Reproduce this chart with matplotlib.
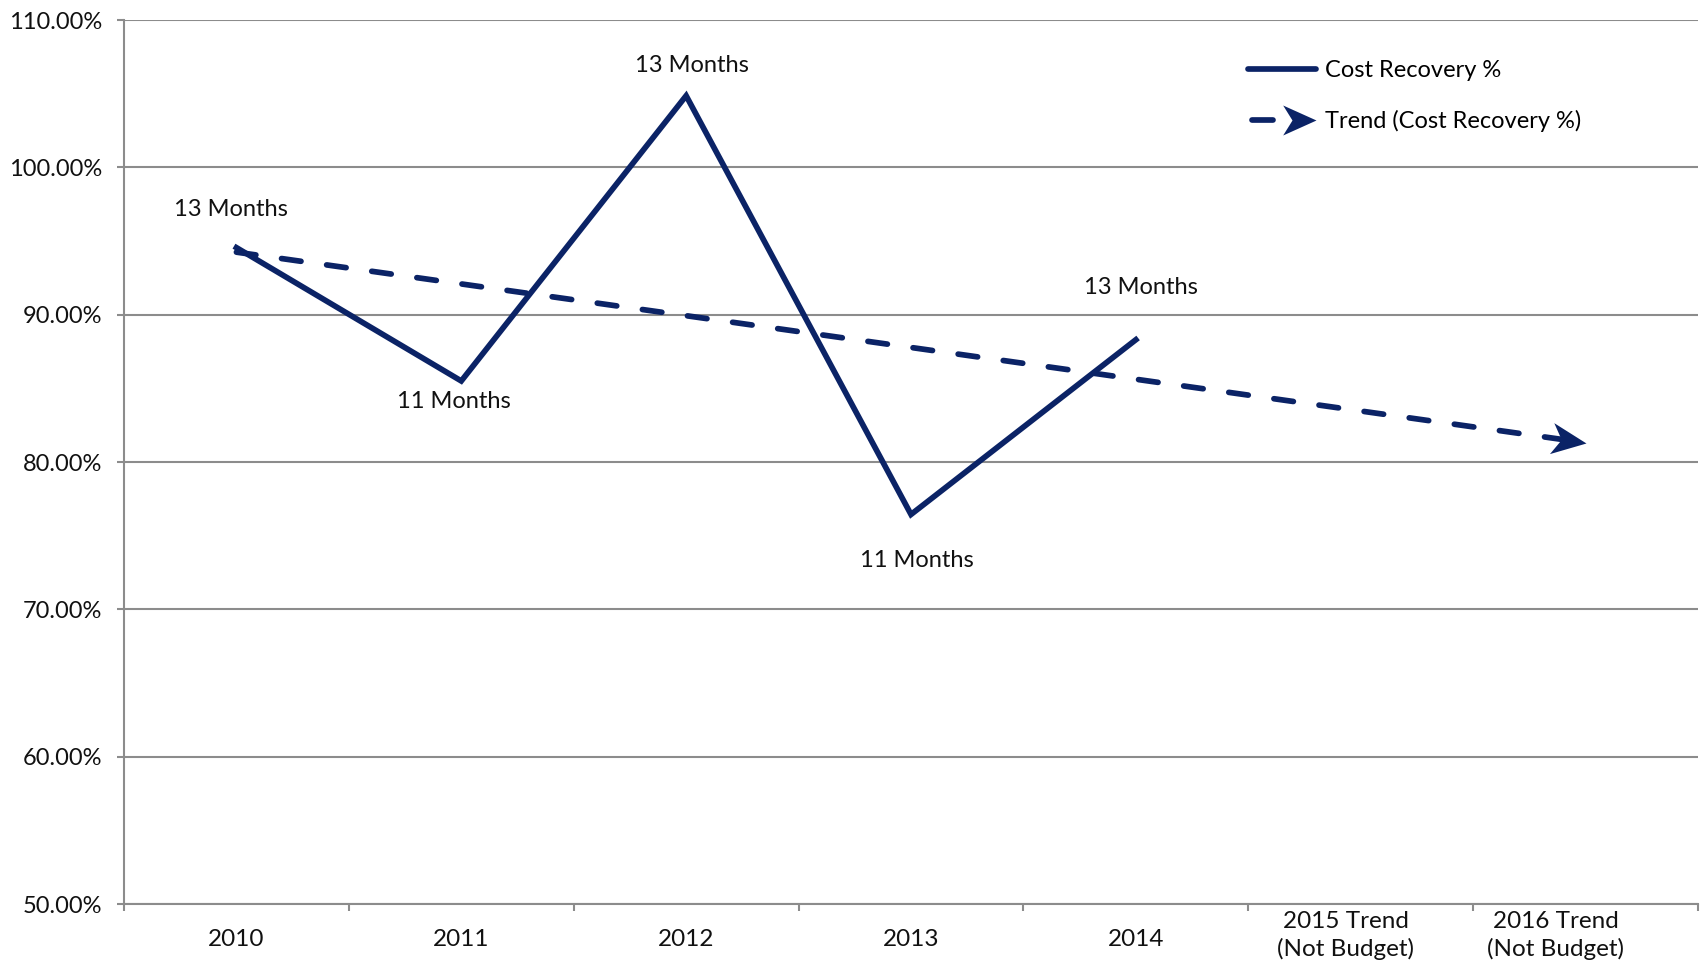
import numpy as np
import matplotlib
matplotlib.use("Agg")
import matplotlib.pyplot as plt
from matplotlib.path import Path
from matplotlib.markers import MarkerStyle
from matplotlib.transforms import Affine2D, ScaledTranslation
from matplotlib.lines import Line2D
from matplotlib.legend_handler import HandlerBase

# data
categories = ["2010", "2011", "2012", "2013", "2014",
              "2015 Trend\n(Not Budget)", "2016 Trend\n(Not Budget)"]
cost_recovery = [94.55, 85.5, 104.86, 76.44, 88.3]
month_labels = ["13 Months", "11 Months", "13 Months", "11 Months", "13 Months"]
label_offsets = [(-4, 27.5), (-5, -14.5), (4, 21.5), (4, -33.5), (4, 37.5)]
y_ticks = [50, 60, 70, 80, 90, 100, 110]

NAVY = "#0b2366"
GRID = "#8c8c8c"
TEXT = "#111111"
LW = 4.1

plt.rcParams["font.family"] = ["Lato", "DejaVu Sans"]

fig = plt.figure(figsize=(17.02, 9.6), dpi=100)
fig.patch.set_facecolor("white")
ax = fig.add_axes([124 / 1702, 1 - 904 / 960, (1698 - 124) / 1702, (904 - 20) / 960])

x = np.arange(len(cost_recovery))
ax.plot(x, cost_recovery, color=NAVY, lw=LW, solid_joinstyle="miter", zorder=3)

# linear trend over the actual years, extended to 2016
coef = np.polyfit(x, cost_recovery, 1)
tx = np.array([0, len(categories) - 1])
ty = np.polyval(coef, tx)
ax.plot(tx, ty, color=NAVY, lw=LW, dashes=(3.45, 4.55), dash_capstyle="round", zorder=3)

# stealth-style arrow head at the end of the trend
head = Path([(0, 0), (-1, 0.45), (-0.72, 0), (-1, -0.45), (0, 0)],
            [Path.MOVETO, Path.LINETO, Path.LINETO, Path.LINETO, Path.CLOSEPOLY])

ax.set_xlim(-0.5, len(categories) - 0.5)
ax.set_ylim(50, 110)
fig.canvas.draw()
p0 = ax.transData.transform((tx[0], ty[0]))
p1 = ax.transData.transform((tx[1], ty[1]))
ang = np.degrees(np.arctan2(p1[1] - p0[1], p1[0] - p0[0]))
ax.plot([tx[1]], [ty[1]], ls="none", color=NAVY,
        marker=MarkerStyle(head, transform=Affine2D().rotate_deg(ang)),
        markersize=50, markeredgewidth=0, zorder=4, clip_on=False)

for xi, yi, lab, off in zip(x, cost_recovery, month_labels, label_offsets):
    ax.annotate(lab, (xi, yi), xytext=off, textcoords="offset points",
                ha="center", va="center", fontsize=17, color=TEXT)

# axes styling
ax.set_yticks(y_ticks)
ax.set_yticklabels([f"{v:.2f}%" for v in y_ticks])
ax.set_xticks(np.arange(len(categories) + 1) - 0.5, minor=False)
ax.set_xticklabels([])
ax.set_xticks(np.arange(len(categories)), minor=True)
ax.set_xticklabels(categories, minor=True)
ax.tick_params(axis="x", which="minor", length=0, pad=25.5, labelsize=17.5, labelcolor=TEXT)
ax.tick_params(axis="x", which="major", length=5, width=1.5, color=GRID)
ax.tick_params(axis="y", length=5, width=1.5, color=GRID, pad=11, labelsize=17, labelcolor=TEXT)
shifts = {5: (-15, 4), 6: (-30, 4)}
for i, lab in enumerate(ax.get_xticklabels(minor=True)):
    lab.set_va("center")
    lab.set_linespacing(1.35)
    if i in shifts:
        dx, dy = shifts[i]
        lab.set_transform(lab.get_transform() +
                          ScaledTranslation(dx / 100, dy / 100, fig.dpi_scale_trans))

ax.grid(axis="y", color=GRID, lw=1.5)
ax.set_axisbelow(True)
for side in ["top", "right"]:
    ax.spines[side].set_visible(False)
for side in ["left", "bottom"]:
    ax.spines[side].set_color(GRID)
    ax.spines[side].set_linewidth(1.5)


class TrendHandler(HandlerBase):
    def create_artists(self, legend, orig_handle, xdescent, ydescent, width, height, fontsize, trans):
        y = height / 2 - ydescent
        dash = Line2D([-xdescent + 3, -xdescent + width * 0.36], [y, y], color=NAVY, lw=LW,
                      solid_capstyle="round", transform=trans)
        tip = Line2D([-xdescent + width], [y], ls="none", color=NAVY, marker=MarkerStyle(head),
                     markersize=48, markeredgewidth=0, transform=trans)
        return [dash, tip]


solid = Line2D([], [], color=NAVY, lw=LW, solid_capstyle="round")
trend = Line2D([], [], color=NAVY)
fig.legend([solid, trend], ["Cost Recovery %", "Trend (Cost Recovery %)"],
           handler_map={trend: TrendHandler()},
           loc="upper left", bbox_to_anchor=(1248 / 1702, 1 - 60 / 960),
           frameon=False, fontsize=17, handlelength=2.9, handletextpad=0.35,
           labelspacing=1.22, borderpad=0, borderaxespad=0)

fig.savefig("out.png", dpi=100)
